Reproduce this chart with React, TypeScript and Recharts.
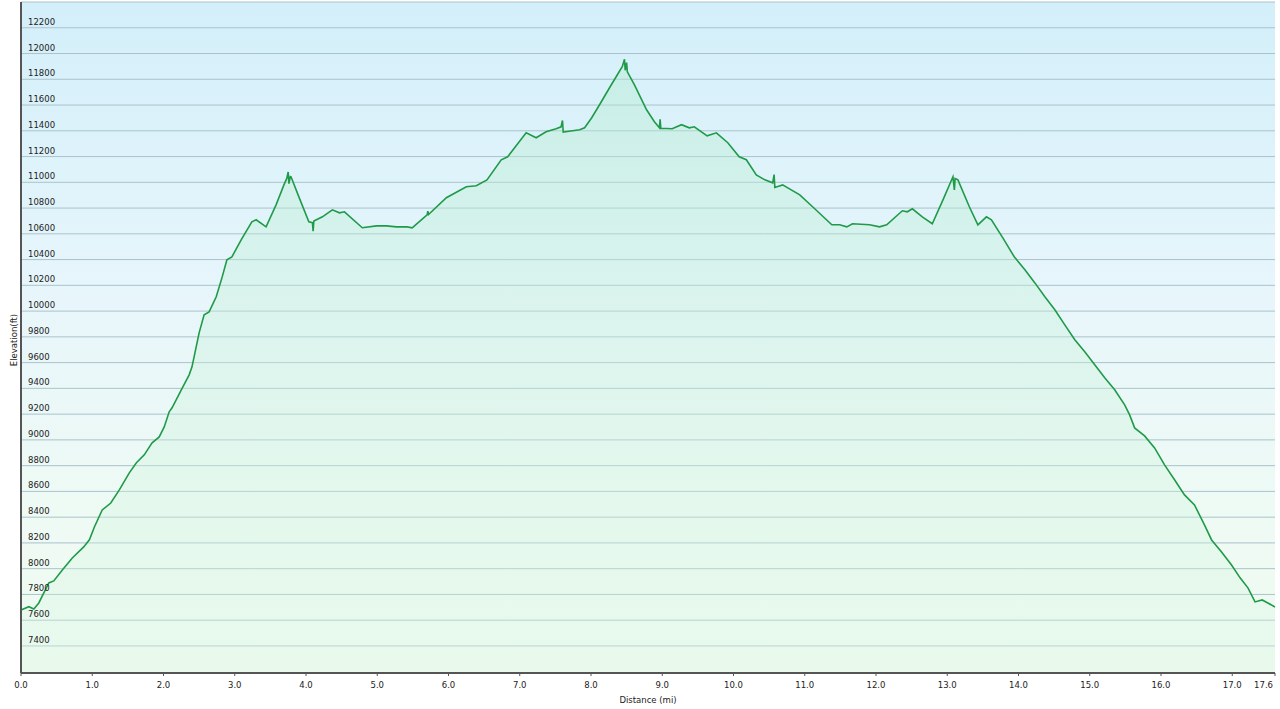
import React from "react";
import {
  Area,
  AreaChart,
  CartesianGrid,
  XAxis,
  YAxis,
} from "recharts";

// distance along the trail (mi)
const distance = [
  0.0, 0.11, 0.18, 0.25, 0.39, 0.46, 0.58, 0.72, 0.88, 0.96,
  1.03, 1.14, 1.26, 1.38, 1.52, 1.62, 1.73, 1.84, 1.94, 2.01,
  2.08, 2.12, 2.25, 2.36, 2.4, 2.5, 2.57, 2.64, 2.74, 2.82,
  2.89, 2.96, 3.09, 3.24, 3.3, 3.44, 3.58, 3.69, 3.73, 3.75,
  3.76, 3.78, 3.79, 3.9, 4.04, 4.09, 4.1, 4.11, 4.23, 4.37,
  4.47, 4.54, 4.79, 4.99, 5.13, 5.27, 5.42, 5.49, 5.7, 5.71,
  5.72, 5.97, 6.25, 6.39, 6.54, 6.74, 6.83, 7.09, 7.23, 7.37,
  7.51, 7.58, 7.6, 7.61, 7.74, 7.84, 7.91, 8.01, 8.12, 8.26,
  8.37, 8.44, 8.47, 8.48, 8.5, 8.51, 8.61, 8.78, 8.89, 8.96,
  8.97, 8.98, 9.14, 9.27, 9.38, 9.45, 9.63, 9.76, 9.92, 10.08,
  10.18, 10.32, 10.44, 10.55, 10.57, 10.58, 10.69, 10.93, 11.11, 11.38,
  11.49, 11.59, 11.67, 11.91, 12.05, 12.15, 12.37, 12.44, 12.51, 12.65,
  12.79, 12.94, 13.08, 13.1, 13.11, 13.15, 13.31, 13.43, 13.55, 13.62,
  13.78, 13.94, 14.09, 14.23, 14.37, 14.51, 14.65, 14.79, 14.93, 15.07,
  15.21, 15.35, 15.49, 15.56, 15.63, 15.77, 15.91, 16.05, 16.19, 16.33,
  16.47, 16.61, 16.71, 16.85, 16.99, 17.11, 17.22, 17.32, 17.42, 17.5,
  17.6,
];

// elevation at each distance (ft)
const elevation = [
  7680, 7705, 7687, 7734, 7889, 7905, 7990, 8083, 8169, 8224,
  8324, 8456, 8510, 8612, 8744, 8822, 8884, 8977, 9023, 9101,
  9218, 9249, 9389, 9505, 9567, 9831, 9971, 9994, 10111, 10258,
  10398, 10421, 10553, 10693, 10709, 10654, 10825, 10980, 11030, 11080,
  10990, 11045, 11043, 10887, 10693, 10686, 10620, 10700, 10732, 10786,
  10763, 10771, 10647, 10662, 10662, 10654, 10654, 10647, 10748, 10775,
  10750, 10880, 10965, 10973, 11019, 11175, 11198, 11384, 11346, 11392,
  11416, 11431, 11480, 11390, 11400, 11408, 11423, 11501, 11602, 11734,
  11835, 11900, 11955, 11870, 11930, 11858, 11757, 11563, 11470, 11423,
  11490, 11420, 11416, 11447, 11423, 11431, 11361, 11384, 11307, 11198,
  11175, 11058, 11019, 10996, 11060, 10960, 10980, 10903, 10810, 10670,
  10670, 10654, 10678, 10670, 10654, 10670, 10779, 10771, 10794, 10732,
  10678, 10864, 11043, 10940, 11030, 11019, 10810, 10670, 10732, 10709,
  10569, 10422, 10321, 10219, 10111, 10010, 9893, 9777, 9684, 9583,
  9482, 9389, 9272, 9194, 9093, 9031, 8938, 8806, 8690, 8573,
  8495, 8340, 8223, 8130, 8029, 7929, 7851, 7742, 7757, 7734,
  7703,
];

const xTicks = [0, 1, 2, 3, 4, 5, 6, 7, 8, 9, 10, 11, 12, 13, 14, 15, 16, 17, 17.6];
const yTicks = [
  7400, 7600, 7800, 8000, 8200, 8400, 8600, 8800, 9000, 9200, 9400, 9600, 9800,
  10000, 10200, 10400, 10600, 10800, 11000, 11200, 11400, 11600, 11800, 12000, 12200,
];

const data = distance.map((d, i) => ({ d, elev: elevation[i] }));

const FONT = "'DejaVu Sans', Verdana, sans-serif";

function YTick(props: any) {
  const { y, payload } = props;
  return (
    <text x={28} y={y - 3} fontSize={8.5} fontFamily={FONT} fill="#222">
      {payload.value}
    </text>
  );
}

function XTick(props: any) {
  const { x, y, payload } = props;
  const last = payload.value === 17.6;
  return (
    <text
      x={last ? x - 2 : x}
      y={y + 10}
      fontSize={8.5}
      fontFamily={FONT}
      fill="#222"
      textAnchor={last ? "end" : "middle"}
    >
      {Number(payload.value).toFixed(1)}
    </text>
  );
}

export default function App() {
  return (
    <div style={{ position: "absolute", left: 0, top: 0, width: 1280, height: 709, background: "#fff" }}>
      <AreaChart
        width={1280}
        height={709}
        data={data}
        margin={{ top: 2, right: 5, left: 21, bottom: 0 }}
      >
        <defs>
          <linearGradient id="bg" x1="0" y1="0" x2="0" y2="1">
            <stop offset="0%" stopColor="#d3effa" />
            <stop offset="45%" stopColor="#e8f6fb" />
            <stop offset="75%" stopColor="#eefaf4" />
            <stop offset="100%" stopColor="#eefbf0" />
          </linearGradient>
          <linearGradient id="fillArea" x1="0" y1="0" x2="0" y2="1">
            <stop offset="0%" stopColor="#b2ebcc" stopOpacity={0.4} />
            <stop offset="100%" stopColor="#dcf7e4" stopOpacity={0.3} />
          </linearGradient>
        </defs>
        <CartesianGrid
          fill="url(#bg)"
          fillOpacity={1}
          vertical={false}
          stroke="#aac3cb"
          strokeOpacity={1}
        />
        <XAxis
          dataKey="d"
          type="number"
          domain={[0, 17.6]}
          ticks={xTicks}
          interval={0}
          height={36}
          axisLine={{ stroke: "#555", strokeWidth: 2 }}
          tickLine={{ stroke: "#555" }}
          tickSize={3}
          tick={(p: any) => <XTick {...p} />}
          label={{
            value: "Distance  (mi)",
            position: "insideBottom",
            offset: 6,
            style: { fontSize: 8.5, fontFamily: FONT, fill: "#222", whiteSpace: "pre" },
          }}
        />
        <YAxis
          type="number"
          domain={[7190, 12400]}
          ticks={yTicks}
          interval={0}
          width={1}
          mirror
          axisLine={{ stroke: "#555", strokeWidth: 2 }}
          tickLine={false}
          tick={(p: any) => <YTick {...p} />}
        />
        <Area
          type="linear"
          dataKey="elev"
          stroke="#1f9a48"
          strokeWidth={1.6}
          fill="url(#fillArea)"
          fillOpacity={1}
          baseValue={7190}
          dot={false}
          activeDot={false}
          isAnimationActive={false}
        />
      </AreaChart>
      <div
        style={{
          position: "absolute",
          left: 14,
          top: 340,
          transform: "translate(-50%, -50%) rotate(-90deg)",
          fontSize: 8.5,
          fontFamily: FONT,
          color: "#222",
          whiteSpace: "nowrap",
        }}
      >
        Elevation(ft)
      </div>
    </div>
  );
}
